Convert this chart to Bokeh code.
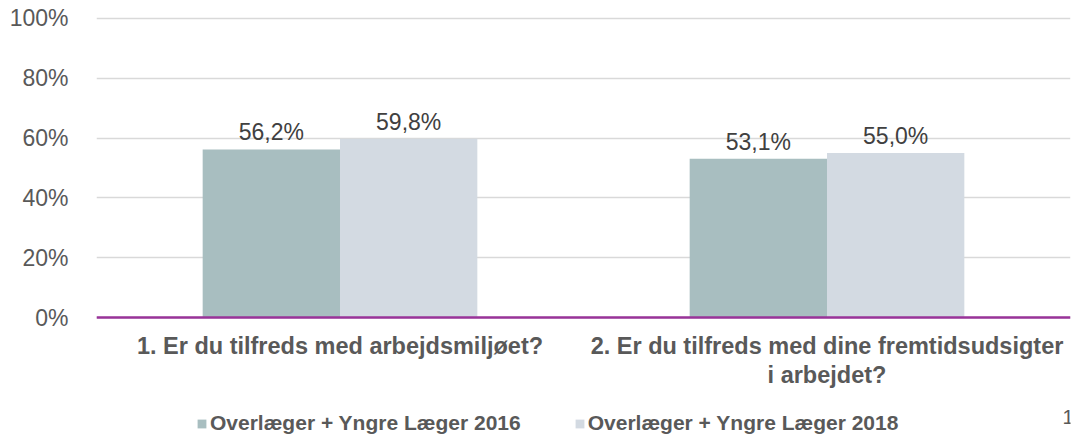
from bokeh.plotting import figure
from bokeh.models import (ColumnDataSource, FactorRange, Legend, LegendItem, Label, Span,
                          FixedTicker, Range1d)
from bokeh.transform import dodge
from bokeh.core.properties import value
from bokeh.embed import file_html
from bokeh.resources import INLINE

# ---- data ----
categories = ["1. Er du tilfreds med arbejdsmiljøet?",
              "2. Er du tilfreds med dine fremtidsudsigter\ni arbejdet?"]
series_names = ["Overlæger + Yngre Læger 2016", "Overlæger + Yngre Læger 2018"]
values_2016 = [56.2, 53.1]
values_2018 = [59.8, 55.0]
y_ticks = [0, 20, 40, 60, 80, 100]
y_tick_labels = ["0%", "20%", "40%", "60%", "80%", "100%"]
page_number = "1"

FONT = "Liberation Sans"
C2016 = "#A8BEC0"
C2018 = "#D3DAE2"


def fmt(v):
    return f"{v:.1f}%".replace(".", ",")


source = ColumnDataSource(dict(
    cat=categories,
    zero=[0] * len(categories),
    v2016=values_2016,
    v2018=values_2018,
    l2016=[fmt(v) for v in values_2016],
    l2018=[fmt(v) for v in values_2018],
))

# the plot frame runs to the bottom of the canvas; the space below 0 holds
# category labels and the legend
p = figure(width=1073, height=437, output_backend="svg", toolbar_location=None,
           x_range=FactorRange(*categories, range_padding=0),
           y_range=Range1d(-40.13, 101),
           min_border_left=96, min_border_right=3, min_border_top=15, min_border_bottom=0)
p.outline_line_color = None
p.background_fill_color = "white"
p.border_fill_color = "white"
p.xaxis.visible = False

bar_w = 0.282
r1 = p.vbar(x=dodge("cat", -bar_w / 2, range=p.x_range), top="v2016", width=bar_w,
            source=source, fill_color=C2016, line_color=None)
r2 = p.vbar(x=dodge("cat", bar_w / 2, range=p.x_range), top="v2018", width=bar_w,
            source=source, fill_color=C2018, line_color=None)

for key, off in (("2016", -bar_w / 2), ("2018", bar_w / 2)):
    p.text(x=dodge("cat", off, range=p.x_range), y="v" + key, text="l" + key,
           source=source, text_align="center", text_baseline="alphabetic",
           y_offset=-17, text_font=value(FONT), text_font_size="23px",
           text_color="#404040")

# category labels under the baseline
p.text(x="cat", y="zero", text="cat", source=source, text_align="center",
       text_baseline="top", y_offset=15, text_font=value(FONT), text_font_size="23.5px",
       text_font_style="bold", text_color="#595959", text_line_height=1.15)

# grid
p.xgrid.grid_line_color = None
p.ygrid.grid_line_color = "#D9D9D9"
p.ygrid.grid_line_width = 1.5
p.ygrid.ticker = FixedTicker(ticks=y_ticks)

# baseline
p.add_layout(Span(location=0, dimension="width", line_color="#993399", line_width=2.5))

# y axis
p.yaxis.ticker = FixedTicker(ticks=y_ticks)
p.yaxis.major_label_overrides = {t: l for t, l in zip(y_ticks, y_tick_labels)}
p.yaxis.axis_line_color = None
p.yaxis.major_tick_line_color = None
p.yaxis.minor_tick_line_color = None
p.yaxis.major_label_standoff = 22
p.yaxis.major_label_text_font = FONT
p.yaxis.major_label_text_font_size = "23px"
p.yaxis.major_label_text_color = "#595959"

legend = Legend(items=[LegendItem(label=series_names[0], renderers=[r1]),
                       LegendItem(label=series_names[1], renderers=[r2])],
                orientation="horizontal", location=(100, 2),
                glyph_width=11, glyph_height=11, label_standoff=3, spacing=53,
                padding=0, margin=0, border_line_color=None, background_fill_alpha=0,
                label_text_font=FONT, label_text_font_size="21px",
                label_text_font_style="bold", label_text_color="#595959")
p.add_layout(legend)

p.add_layout(Label(x=966, y=21, x_units="screen", y_units="screen", text=page_number,
                   text_font=FONT, text_font_size="20px", text_color="#595959",
                   text_baseline="alphabetic"))

open("out.html", "w").write(file_html(p, INLINE))
